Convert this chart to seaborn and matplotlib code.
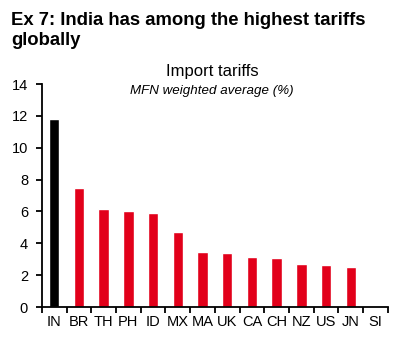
import pandas as pd
import matplotlib.pyplot as plt
import seaborn as sns

# Data
countries = ['IN', 'BR', 'TH', 'PH', 'ID', 'MX', 'MA', 'UK', 'CA', 'CH', 'NZ', 'US', 'JN', 'SI']
tariffs = [11.8, 7.5, 6.13, 6.05, 5.88, 4.73, 3.47, 3.37, 3.12, 3.1, 2.68, 2.62, 2.53, 0.08]
groups = ['India'] + ['Other'] * 13

sns.set_style("ticks")
plt.rcParams['font.family'] = ['Liberation Sans', 'DejaVu Sans']
plt.rcParams['text.color'] = 'black'
plt.rcParams['xtick.color'] = 'black'
plt.rcParams['ytick.color'] = 'black'

df = pd.DataFrame({'country': countries, 'tariff': tariffs, 'group': groups})

fig = plt.figure(figsize=(3.99, 3.53), dpi=100)
ax = fig.add_axes([0.105, 0.130, 0.867, 0.632])

sns.barplot(data=df, x='country', y='tariff', hue='group',
            palette={'India': '#000000', 'Other': '#e2001a'},
            width=0.42, dodge=False, legend=False, ax=ax, saturation=1)

ax.set_ylim(0, 14)
ax.set_yticks(range(0, 15, 2))
ax.set_xlim(-0.5, len(countries) - 0.5)
ax.set_xlabel('')
ax.set_ylabel('')
ax.tick_params(axis='both', labelsize=10.5, length=4, width=1.3, color='black',
               labelcolor='black')
ax.tick_params(axis='y', pad=6)
ax.tick_params(axis='x', length=0, pad=6)
# ticks on x-axis between categories
ax.set_xticks([i - 0.5 for i in range(len(countries) + 1)], minor=True)
ax.tick_params(axis='x', which='minor', length=4, width=1.3, color='black')
for s in ['top', 'right']:
    ax.spines[s].set_visible(False)
for s in ['left', 'bottom']:
    ax.spines[s].set_linewidth(1.3)
    ax.spines[s].set_color('black')

fig.text(0.028, 0.966, 'Ex 7: India has among the highest tariffs\nglobally',
         fontsize=13.3, fontweight='bold', va='top', linespacing=1.2)
fig.text(0.532, 0.785, 'Import tariffs', fontsize=12, ha='center')
fig.text(0.532, 0.735, 'MFN weighted average (%)', fontsize=9.6, ha='center',
         style='italic')

fig.savefig('out.png', dpi=100)
